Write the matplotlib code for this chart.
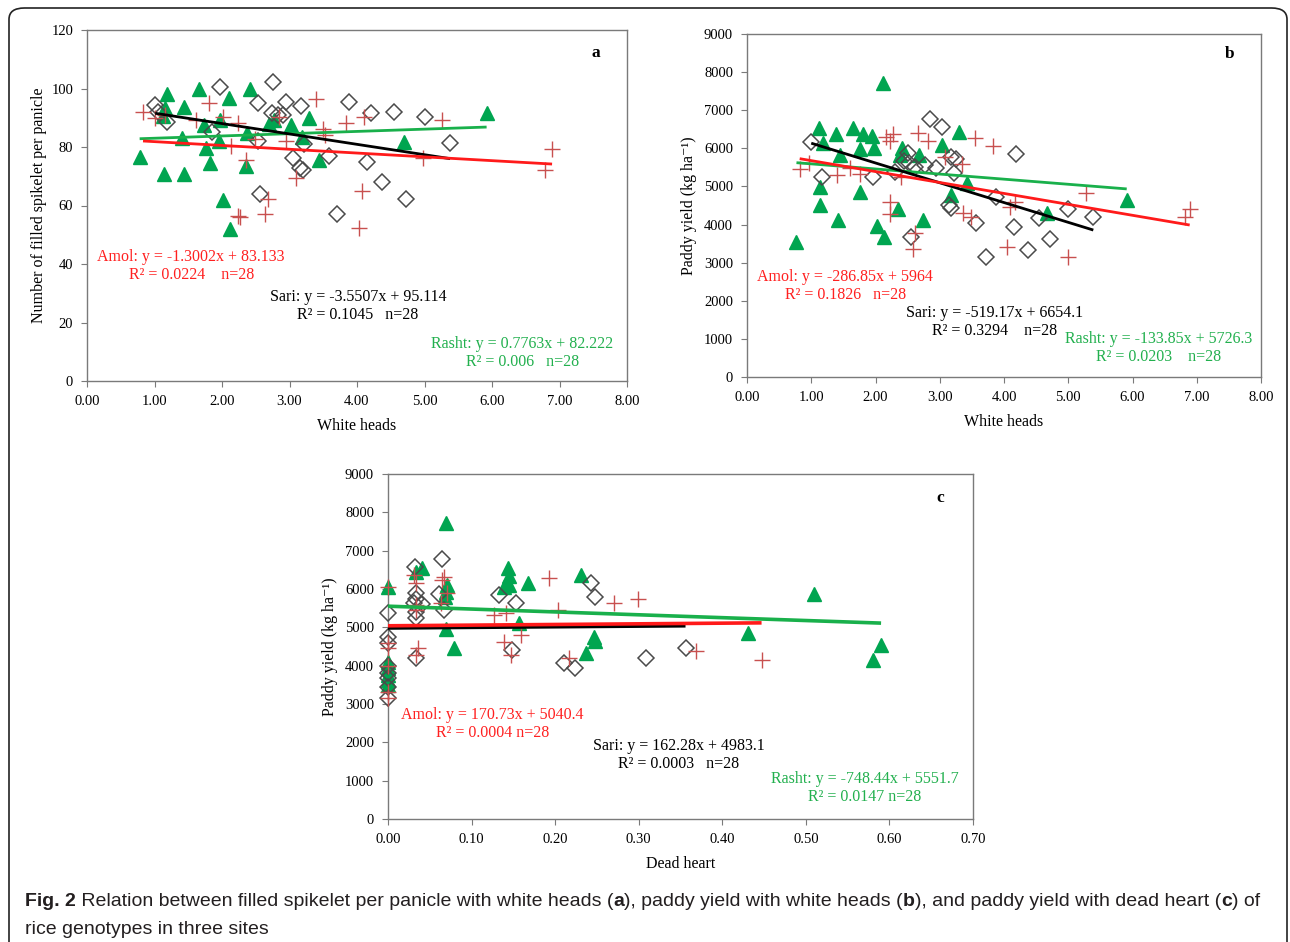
import numpy as np
import matplotlib
matplotlib.use("Agg")
import matplotlib.pyplot as plt
from matplotlib.patches import FancyBboxPatch

# ---------------- DATA ----------------
# Panel a: White heads vs Number of filled spikelet per panicle
rasht_a_x = [0.78,1.19,1.15,1.12,1.44,1.14,1.43,1.40,1.66,1.74,1.76,1.82,1.97,1.96,2.11,2.02,2.12,2.36,2.37,2.41,2.69,2.77,3.02,3.19,3.29,3.43,5.92,4.69]
rasht_a_y = [76.5,98.0,93.2,90.7,93.8,70.8,70.8,83.0,99.8,87.5,79.8,74.6,89.2,82.1,96.6,61.9,51.8,73.5,84.7,100.0,88.0,89.2,87.5,83.5,89.8,75.6,91.7,81.8]
sari_a_x = [1.01,1.05,1.18,1.97,2.54,2.75,2.74,2.83,2.95,3.17,1.85,2.54,3.21,3.05,3.16,3.20,3.59,3.88,2.56,3.71,4.21,4.55,5.01,5.38,4.15,4.37,4.73,2.90]
sari_a_y = [94.4,92.0,88.7,100.4,95.1,102.1,91.7,90.9,95.3,94.1,85.2,82.1,81.0,76.1,72.7,72.1,76.9,95.3,64.1,57.0,91.5,92.1,90.1,81.2,75.0,67.9,62.1,91.0]
amol_a_x = [0.83,1.01,1.15,1.80,1.62,2.02,2.24,2.14,2.35,2.68,2.64,2.24,2.27,2.49,2.84,2.95,3.10,3.39,3.52,3.50,3.84,4.11,5.26,4.98,4.08,4.03,6.89,6.79]
amol_a_y = [92.1,89.8,91.0,95.2,89.4,90.4,88.1,80.3,75.6,62.2,57.1,56.5,56.0,82.9,90.4,82.2,69.3,96.3,84.1,86.0,88.1,90.4,89.2,76.1,65.1,52.2,79.2,72.1]

# Panel b: White heads vs Paddy yield
rasht_b_x = [2.11,1.12,1.39,1.65,1.81,1.95,1.19,1.45,1.76,1.98,2.42,2.38,2.68,3.03,3.30,3.42,3.18,1.14,1.76,1.14,1.42,2.02,2.13,2.35,2.74,0.77,4.67,5.91]
rasht_b_y = [7709,6528,6370,6528,6370,6334,6134,5827,5976,6019,6019,5827,5827,6089,6438,5084,4777,4979,4864,4514,4121,3971,3682,4401,4121,3535,4296,4646]
sari_b_x = [1.00,1.17,1.96,2.30,2.51,2.52,2.77,2.85,3.04,2.94,3.18,3.22,3.15,3.18,3.57,3.72,2.55,3.88,4.19,4.15,4.55,5.00,5.39,4.72,4.37,2.62,2.45,3.25]
sari_b_y = [6176,5241,5258,5389,5871,5609,5564,6764,6570,5477,5766,5346,4514,4427,4034,3142,3682,4733,5853,3945,4181,4409,4192,3622,3333,5520,5680,5730]
amol_b_x = [0.82,0.97,1.60,1.76,2.17,2.28,2.66,2.82,3.08,3.55,3.83,2.22,2.22,2.61,2.59,3.36,3.48,2.22,4.09,4.17,4.04,5.00,5.28,6.89,6.81,1.40,2.40,3.35]
amol_b_y = [5451,5625,5477,5328,6307,6370,6396,6202,5783,6265,6063,4601,4278,3771,3360,4296,4208,6202,4470,4601,3420,3158,4821,4401,4208,5300,5250,5600]

# Panel c: Dead heart vs Paddy yield
rasht_c_x = [0.069,0.0,0.033,0.041,0.069,0.070,0.068,0.069,0.079,0.143,0.145,0.139,0.145,0.167,0.157,0.231,0.247,0.248,0.237,0.0,0.0,0.0,0.0,0.0,0.51,0.431,0.59,0.58]
rasht_c_y = [7715,6061,6452,6540,5931,6100,5800,4957,4453,6540,6330,6061,6100,6148,5106,6366,4757,4650,4323,4105,3931,3757,3626,3496,5870,4861,4540,4148]
sari_c_x = [0,0,0,0,0,0,0.032,0.033,0.031,0.041,0.033,0.033,0.033,0.065,0.061,0.067,0.133,0.153,0.148,0.211,0.224,0.243,0.248,0.356,0.309,0,0,0.033]
sari_c_y = [5366,4757,4583,3670,3452,3148,6583,5888,5627,5601,5409,5236,4192,6775,5862,5453,5844,5627,4409,4062,3947,6165,5800,4453,4192,4000,3800,5750]
amol_c_x = [0,0,0,0,0,0.031,0.033,0.033,0.034,0.036,0.033,0.067,0.065,0.070,0.064,0.127,0.141,0.139,0.147,0.159,0.193,0.203,0.217,0.271,0.299,0.369,0.447,0]
amol_c_y = [6061,4583,4453,3322,3148,6366,6148,5583,5453,4453,4279,6322,6235,5888,5627,5322,5366,4626,4279,4800,6279,5453,4192,5627,5731,4392,4148,4000]

# Regression equations (slope, intercept) per panel
reg_a = {"Amol": (-1.3002, 83.133), "Sari": (-3.5507, 95.114), "Rasht": (0.7763, 82.222)}
reg_b = {"Amol": (-286.85, 5964), "Sari": (-519.17, 6654.1), "Rasht": (-133.85, 5726.3)}
reg_c = {"Amol": (170.73, 5040.4), "Sari": (162.28, 4983.1), "Rasht": (-748.44, 5551.7)}

text_a = {"Amol": "Amol: y = -1.3002x + 83.133\nR² = 0.0224    n=28",
          "Sari": "Sari: y = -3.5507x + 95.114\nR² = 0.1045   n=28",
          "Rasht": "Rasht: y = 0.7763x + 82.222\nR² = 0.006   n=28"}
text_b = {"Amol": "Amol: y = -286.85x + 5964\nR² = 0.1826   n=28",
          "Sari": "Sari: y = -519.17x + 6654.1\nR² = 0.3294    n=28",
          "Rasht": "Rasht: y = -133.85x + 5726.3\nR² = 0.0203    n=28"}
text_c = {"Amol": "Amol: y = 170.73x + 5040.4\nR² = 0.0004 n=28",
          "Sari": "Sari: y = 162.28x + 4983.1\nR² = 0.0003   n=28",
          "Rasht": "Rasht: y = -748.44x + 5551.7\nR² = 0.0147 n=28"}

xticks_ab = [0, 1, 2, 3, 4, 5, 6, 7, 8]
yticks_a = [0, 20, 40, 60, 80, 100, 120]
yticks_bc = [0, 1000, 2000, 3000, 4000, 5000, 6000, 7000, 8000, 9000]
xticks_c = [0.0, 0.1, 0.2, 0.3, 0.4, 0.5, 0.6, 0.7]

# ---------------- STYLE ----------------
W, H = 1290, 942
SERIF = ["Liberation Serif", "DejaVu Serif"]
GREEN_M = "#00A550"
GREEN_L = "#19B04B"
RED_M = "#C8504F"
RED_L = "#FF1A1A"
RED_T = "#FF2020"
GREEN_T = "#22B04E"
SPINE = "#7a7a7a"

plt.rcParams["font.family"] = SERIF

fig = plt.figure(figsize=(W / 100, H / 100), dpi=100)


def px_axes(x0, y0, x1, y1):
    return fig.add_axes([x0 / W, 1 - y1 / H, (x1 - x0) / W, (y1 - y0) / H])


def style_axes(ax):
    for s in ax.spines.values():
        s.set_color(SPINE)
        s.set_linewidth(1.0)
    ax.tick_params(direction="out", length=4, width=0.8, color=SPINE,
                   labelsize=10.5, pad=6)


def draw_panel(ax, rx, ry, sx, sy, ax_, ay_, reg, texts, tpos, lw):
    ax.plot(rx, ry, ls="none", marker="^", ms=9.5, color=GREEN_M, mec=GREEN_M,
            zorder=3, clip_on=False)
    ax.plot(sx, sy, ls="none", marker="D", ms=8, mfc="none", mec="#4a4a4a", mew=1.1,
            zorder=3, clip_on=False)
    ax.plot(ax_, ay_, ls="none", marker="+", ms=12, color=RED_M, mew=1.0,
            zorder=3, clip_on=False)
    for name, xs, col in (("Rasht", rx, GREEN_L), ("Sari", sx, "black"), ("Amol", ax_, RED_L)):
        m, b = reg[name]
        xx = np.array([min(xs), max(xs)])
        ax.plot(xx, m * xx + b, color=col, lw=lw, zorder=4, solid_capstyle="butt")
    for name, col in (("Amol", RED_T), ("Sari", "black"), ("Rasht", GREEN_T)):
        fx, fy = tpos[name]
        ax.text(fx, fy, texts[name], transform=ax.transAxes, ha="center", va="center",
                multialignment="center", color=col, fontsize=11.5, linespacing=1.15)


# Panel a
ax1 = px_axes(87, 30, 627, 381)
style_axes(ax1)
draw_panel(ax1, rasht_a_x, rasht_a_y, sari_a_x, sari_a_y, amol_a_x, amol_a_y, reg_a, text_a,
           {"Amol": (0.193, 0.328), "Sari": (0.502, 0.214), "Rasht": (0.806, 0.080)}, 2.0)
ax1.set_xlim(0, 8)
ax1.set_ylim(0, 120)
ax1.set_xticks(xticks_ab)
ax1.set_xticklabels([f"{v:.2f}" for v in xticks_ab])
ax1.set_yticks(yticks_a)
ax1.set_xlabel("White heads", fontsize=11.5, labelpad=7)
ax1.set_ylabel("Number of filled spikelet per panicle", fontsize=11.5, labelpad=3)
ax1.text(0.943, 0.934, "a", transform=ax1.transAxes, fontsize=12.5, fontweight="bold",
         ha="center", va="center")

# Panel b
ax2 = px_axes(747, 34, 1261, 377)
style_axes(ax2)
draw_panel(ax2, rasht_b_x, rasht_b_y, sari_b_x, sari_b_y, amol_b_x, amol_b_y, reg_b, text_b,
           {"Amol": (0.191, 0.265), "Sari": (0.481, 0.160), "Rasht": (0.800, 0.085)}, 2.0)
ax2.set_xlim(0, 8)
ax2.set_ylim(0, 9000)
ax2.set_xticks(xticks_ab)
ax2.set_xticklabels([f"{v:.2f}" for v in xticks_ab])
ax2.set_yticks(yticks_bc)
ax2.set_xlabel("White heads", fontsize=11.5, labelpad=7)
ax2.set_ylabel("Paddy yield (kg ha⁻¹)", fontsize=11.5, labelpad=5)
ax2.text(0.938, 0.942, "b", transform=ax2.transAxes, fontsize=12.5, fontweight="bold",
         ha="center", va="center")

# Panel c
ax3 = px_axes(388, 474, 973, 819)
style_axes(ax3)
draw_panel(ax3, rasht_c_x, rasht_c_y, sari_c_x, sari_c_y, amol_c_x, amol_c_y, reg_c, text_c,
           {"Amol": (0.178, 0.275), "Sari": (0.497, 0.186), "Rasht": (0.815, 0.090)}, 2.6)
ax3.set_xlim(0, 0.7)
ax3.set_ylim(0, 9000)
ax3.set_xticks(xticks_c)
ax3.set_xticklabels([f"{v:.2f}" for v in xticks_c])
ax3.set_yticks(yticks_bc)
ax3.set_xlabel("Dead heart", fontsize=11.5, labelpad=7)
ax3.set_ylabel("Paddy yield (kg ha⁻¹)", fontsize=11.5, labelpad=5)
ax3.text(0.944, 0.930, "c", transform=ax3.transAxes, fontsize=12.5, fontweight="bold",
         ha="center", va="center")

# Outer rounded frame (bottom edge runs off the image)
frame = FancyBboxPatch((9 / W, -0.05), (1287 - 9) / W, 1.05 - 8 / H,
                       boxstyle="round,pad=0,rounding_size=0.012",
                       transform=fig.transFigure, fill=False, ec="#222222", lw=1.2)
fig.patches.append(frame)

# Caption with mixed bold segments
CAP_FONT = ["Liberation Sans", "DejaVu Sans"]
CAP_SIZE = 14
CAP_COL = "#231f20"
renderer = fig.canvas.get_renderer()


def draw_segments(segments, x_px, y_px):
    x = x_px / W
    for txt, bold in segments:
        t = fig.text(x, 1 - y_px / H, txt, fontsize=CAP_SIZE, family=CAP_FONT,
                     fontweight="bold" if bold else "normal", color=CAP_COL,
                     ha="left", va="center")
        bb = t.get_window_extent(renderer=renderer)
        x += bb.width / W


line1 = [("Fig. 2", True), (" Relation between filled spikelet per panicle with white heads (", False),
         ("a", True), ("), paddy yield with white heads (", False), ("b", True),
         ("), and paddy yield with dead heart (", False), ("c", True), (") of", False)]
line2 = [("rice genotypes in three sites", False)]
draw_segments(line1, 25, 902)
draw_segments(line2, 25, 929)

fig.savefig("out.png", dpi=100)
